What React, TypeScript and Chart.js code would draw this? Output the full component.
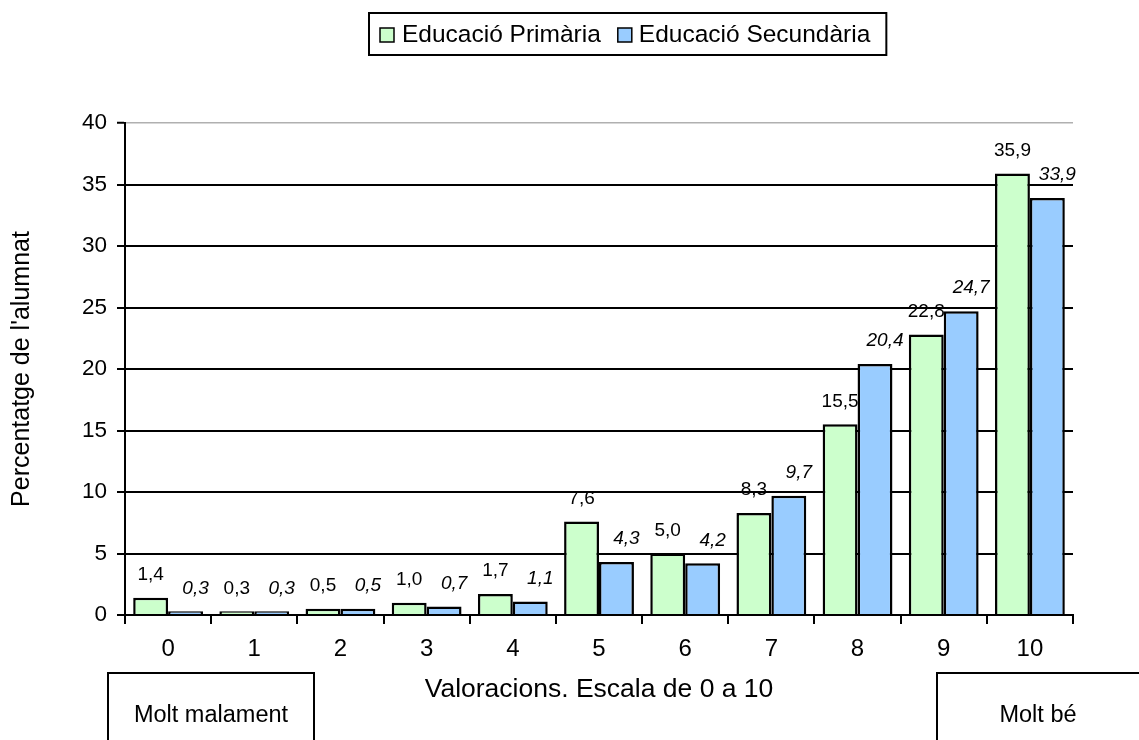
import React, { useEffect, useRef } from "react";
import { Chart, registerables } from "chart.js";

Chart.register(...registerables);

const categories = ["0", "1", "2", "3", "4", "5", "6", "7", "8", "9", "10"];
const primaria = [1.4, 0.3, 0.5, 1.0, 1.7, 7.6, 5.0, 8.3, 15.5, 22.8, 35.9];
const secundaria = [0.3, 0.3, 0.5, 0.7, 1.1, 4.3, 4.2, 9.7, 20.4, 24.7, 33.9];
const seriesNames = ["Educació Primària", "Educació Secundària"];
const yTicks = [0, 5, 10, 15, 20, 25, 30, 35, 40];
const xTitle = "Valoracions. Escala de 0 a 10";
const yTitle = "Percentatge de l'alumnat";
const leftNote = "Molt malament";
const rightNote = "Molt bé";

const FONT = "'Liberation Sans', Arial, sans-serif";
const GREEN = "#CCFFCC";
const BLUE = "#99CCFF";

const fmt = (v: number) => v.toFixed(1).replace(".", ",");

function drawLabels(chart: any, dsIndex: number) {
  const ctx = chart.ctx;
  const meta = chart.getDatasetMeta(dsIndex);
  const data = chart.data.datasets[dsIndex].data as number[];
  ctx.save();
  ctx.fillStyle = "#000";
  ctx.textAlign = "center";
  ctx.textBaseline = "middle";
  ctx.font = (dsIndex === 1 ? "italic " : "") + "19px " + FONT;
  const dx = dsIndex === 1 ? 10 : 0;
  meta.data.forEach((el: any, i: number) => {
    ctx.fillText(fmt(data[i]), el.x + dx, el.y - 23);
  });
  ctx.restore();
}

const labelPlugin = {
  id: "valueLabels",
  beforeDatasetsDraw(chart: any) {
    drawLabels(chart, 0);
  },
  afterDatasetsDraw(chart: any) {
    drawLabels(chart, 1);
  },
};

const decorPlugin = {
  id: "decor",
  afterDraw(chart: any) {
    const ctx = chart.ctx;
    ctx.save();
    // legend
    ctx.font = "24.5px " + FONT;
    const w1 = ctx.measureText(seriesNames[0]).width;
    const w2 = ctx.measureText(seriesNames[1]).width;
    const fx = 369;
    const fy = 13;
    const fh = 42;
    const b1 = fx + 11;
    const t1 = b1 + 22;
    const b2 = t1 + w1 + 17;
    const t2 = b2 + 21;
    const fw = t2 + w2 + 16 - fx;
    ctx.strokeStyle = "#000";
    ctx.lineWidth = 2;
    ctx.strokeRect(fx, fy, fw, fh);
    ctx.lineWidth = 1.5;
    ctx.fillStyle = GREEN;
    ctx.fillRect(b1, 28, 14, 14);
    ctx.strokeRect(b1, 28, 14, 14);
    ctx.fillStyle = BLUE;
    ctx.fillRect(b2, 28, 14, 14);
    ctx.strokeRect(b2, 28, 14, 14);
    ctx.fillStyle = "#000";
    ctx.textBaseline = "middle";
    ctx.textAlign = "left";
    ctx.fillText(seriesNames[0], t1, 35);
    ctx.fillText(seriesNames[1], t2, 35);

    // note boxes
    ctx.lineWidth = 2;
    ctx.strokeRect(108, 673, 206, 80);
    ctx.strokeRect(937, 673, 210, 80);
    ctx.font = "23.5px " + FONT;
    ctx.textAlign = "center";
    ctx.fillText(leftNote, 211, 716);
    ctx.fillText(rightNote, 1038, 716);
    ctx.restore();
  },
};

export default function App() {
  const ref = useRef<HTMLCanvasElement>(null);
  useEffect(() => {
    if (!ref.current) return;
    const chart = new Chart(ref.current, {
      type: "bar",
      data: {
        labels: categories,
        datasets: [
          {
            label: seriesNames[0],
            data: primaria,
            backgroundColor: GREEN,
            borderColor: "#000",
            borderWidth: 2.5,
            categoryPercentage: 0.81,
            barPercentage: 1,
          },
          {
            label: seriesNames[1],
            data: secundaria,
            backgroundColor: BLUE,
            borderColor: "#000",
            borderWidth: 2.5,
            categoryPercentage: 0.81,
            barPercentage: 1,
          },
        ],
      },
      options: {
        animation: false,
        responsive: false,
        layout: { padding: { left: 0, right: 66, top: 123, bottom: 0 } },
        plugins: {
          legend: { display: false },
          tooltip: { enabled: false },
        },
        scales: {
          x: {
            type: "category",
            offset: true,
            afterFit: (s: any) => {
              s.height = 125;
            },
            grid: {
              offset: true,
              drawOnChartArea: false,
              drawTicks: true,
              tickLength: 9,
              color: "#000",
              lineWidth: 2,
            },
            border: { display: true, color: "#000", width: 2 },
            ticks: {
              color: "#000",
              padding: 11,
              font: { family: FONT, size: 24 },
            },
            title: {
              display: true,
              text: xTitle,
              color: "#000",
              font: { family: FONT, size: 26.5 },
              padding: { top: 0, bottom: 34 },
            },
          },
          y: {
            min: 0,
            max: 40,
            afterFit: (s: any) => {
              s.width = 125;
            },
            afterBuildTicks: (s: any) => {
              s.ticks = yTicks.map((v) => ({ value: v }));
            },
            grid: {
              color: (c: any) => (c.tick && c.tick.value === 40 ? "#b0b0b0" : "#000"),
              lineWidth: (c: any) => (c.tick && c.tick.value === 40 ? 1.5 : 2),
              tickColor: "#000",
              tickWidth: 2,
              tickLength: 8,
            },
            border: { display: true, color: "#000", width: 2 },
            ticks: {
              color: "#000",
              padding: 10,
              font: { family: FONT, size: 22.5 },
            },
            title: {
              display: true,
              text: yTitle,
              color: "#000",
              font: { family: FONT, size: 25 },
              padding: { top: 7, bottom: 0 },
            },
          },
        },
      },
      plugins: [labelPlugin, decorPlugin],
    });
    return () => chart.destroy();
  }, []);
  return (
    <div style={{ position: "absolute", left: 0, top: 0, width: 1139, height: 740, background: "#fff" }}>
      <canvas ref={ref} width={1139} height={740} />
    </div>
  );
}
